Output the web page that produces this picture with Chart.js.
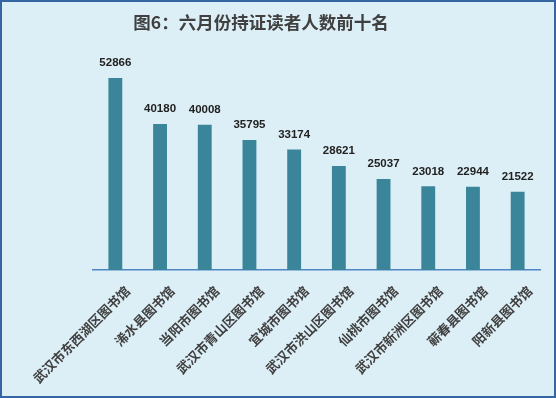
<!DOCTYPE html>
<html>
<head>
<meta charset="utf-8">
<script src="https://cdn.jsdelivr.net/npm/chart.js@4"></script>
<style>
html,body{margin:0;padding:0;background:#DDEFF6;}
#wrap{width:556px;height:398px;position:relative;}
</style>
</head>
<body>
<div id="wrap"><canvas id="c" width="556" height="398"></canvas></div>
<script>
const chartTitle = '图6：六月份持证读者人数前十名';
const categories = ['武汉市东西湖区图书馆','浠水县图书馆','当阳市图书馆','武汉市青山区图书馆','宜城市图书馆','武汉市洪山区图书馆','仙桃市图书馆','武汉市新洲区图书馆','蕲春县图书馆','阳新县图书馆'];
const readers = [52866, 40180, 40008, 35795, 33174, 28621, 25037, 23018, 22944, 21522];

const CJK = '"Noto Sans CJK SC", "Noto Sans", sans-serif';

const framePlugin = {
  id: 'frame',
  beforeDraw(chart) {
    const ctx = chart.ctx;
    ctx.save();
    ctx.fillStyle = '#DDEFF6';
    ctx.fillRect(0, 0, chart.width, chart.height);
    ctx.restore();
  },
  afterDraw(chart) {
    const ctx = chart.ctx;
    ctx.save();
    ctx.strokeStyle = '#3566A3';
    ctx.lineWidth = 2;
    ctx.strokeRect(1, 1, chart.width - 2, chart.height - 2);
    ctx.fillStyle = '#404040';
    ctx.font = 'bold 17.5px ' + CJK;
    ctx.textAlign = 'center';
    ctx.textBaseline = 'middle';
    ctx.fillText(chartTitle, 261, 22);
    ctx.restore();
  }
};

const valueLabels = {
  id: 'valueLabels',
  afterDatasetsDraw(chart) {
    const ctx = chart.ctx;
    const meta = chart.getDatasetMeta(0);
    ctx.save();
    ctx.fillStyle = '#222222';
    ctx.font = 'bold 11.5px "Liberation Sans", Arial, sans-serif';
    ctx.textAlign = 'center';
    ctx.textBaseline = 'bottom';
    meta.data.forEach((bar, i) => {
      ctx.fillText(String(chart.data.datasets[0].data[i]), bar.x, bar.y - 9);
    });
    ctx.restore();
  }
};

new Chart(document.getElementById('c'), {
  type: 'bar',
  data: {
    labels: categories,
    datasets: [{
      data: readers,
      backgroundColor: '#3A8599',
      borderWidth: 0,
      barPercentage: 0.62,
      categoryPercentage: 0.5
    }]
  },
  options: {
    responsive: false,
    animation: false,
    layout: { padding: { left: 93, right: 16, top: 52, bottom: 2 } },
    plugins: { legend: { display: false }, tooltip: { enabled: false }, title: { display: false } },
    scales: {
      x: {
        grid: { display: false, drawTicks: false },
        border: { display: true, color: '#4F86C6', width: 1.5 },
        ticks: {
          color: '#404040',
          font: { family: CJK, size: 13, weight: 'bold' },
          minRotation: 45, maxRotation: 45, padding: 13, labelOffset: 12, autoSkip: false
        },
        afterFit(s) { s.height = 126; }
      },
      y: { display: false, min: 0, max: 60000 }
    }
  },
  plugins: [framePlugin, valueLabels]
});
</script>
</body>
</html>
